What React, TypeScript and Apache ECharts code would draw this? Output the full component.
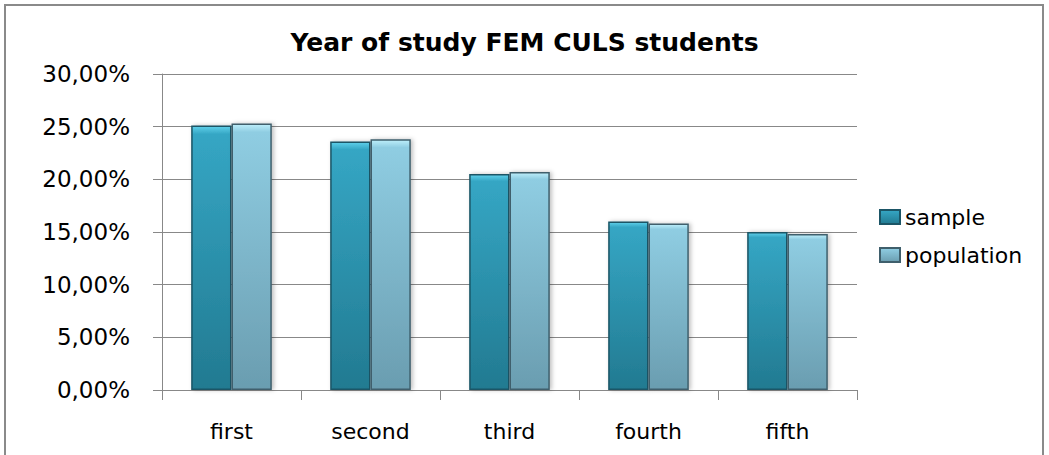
import React, { useEffect, useRef } from "react";
import * as echarts from "echarts";

const categories = ["first", "second", "third", "fourth", "fifth"];
const sampleValues = [25.1, 23.6, 20.5, 16.0, 15.0];
const populationValues = [25.3, 23.8, 20.7, 15.8, 14.8];
const seriesNames = ["sample", "population"];
const titleText = "Year of study FEM CULS students";

const fmt = (v: number) => v.toFixed(2).replace(".", ",") + "%";

export default function App() {
  const ref = useRef<HTMLDivElement>(null);
  useEffect(() => {
    if (!ref.current) return;
    const chart = echarts.init(ref.current, null, { renderer: "svg" });
    const sampleColor = new echarts.graphic.LinearGradient(0, 0, 0, 1, [
      { offset: 0, color: "#5fd0ea" },
      { offset: 0.03, color: "#35a6c4" },
      { offset: 1, color: "#227a91" },
    ]);
    const popColor = new echarts.graphic.LinearGradient(0, 0, 0, 1, [
      { offset: 0, color: "#bdeefa" },
      { offset: 0.03, color: "#8fcde2" },
      { offset: 1, color: "#6a9db0" },
    ]);
    chart.setOption({
      animation: false,
      backgroundColor: "#ffffff",
      title: {
        text: titleText,
        left: "center",
        top: 25,
        textStyle: { fontFamily: "DejaVu Sans", fontWeight: "bold", fontSize: 25, color: "#000" },
      },
      graphic: [
        {
          type: "rect",
          shape: { x: 5, y: 5, width: 1038, height: 470 },
          style: { fill: "none", stroke: "#8a8a8a", lineWidth: 2 },
          silent: true,
        },
      ],
      legend: {
        orient: "vertical",
        left: 874,
        top: 201,
        icon: "rect",
        itemWidth: 20,
        itemHeight: 14,
        itemGap: 16,
        data: seriesNames,
        textStyle: { fontFamily: "DejaVu Sans", fontSize: 22, color: "#000" },
      },
      grid: { left: 162, right: 192, top: 74, bottom: 65 },
      xAxis: {
        type: "category",
        data: categories,
        axisLine: { show: true, lineStyle: { color: "#888", width: 1 } },
        axisTick: { show: true, length: 10, lineStyle: { color: "#888" } },
        axisLabel: { margin: 30, fontFamily: "DejaVu Sans", fontSize: 22, color: "#000" },
      },
      yAxis: {
        type: "value",
        min: 0,
        max: 30,
        interval: 5,
        axisLine: { show: true, lineStyle: { color: "#888", width: 1 } },
        axisTick: { show: true, length: 9, lineStyle: { color: "#888" } },
        splitLine: { show: true, lineStyle: { color: "#888", width: 1 } },
        axisLabel: { margin: 32, fontFamily: "DejaVu Sans", fontSize: 23, color: "#000", formatter: fmt },
      },
      series: [
        {
          name: seriesNames[0],
          type: "bar",
          data: sampleValues,
          barGap: "0%",
          barCategoryGap: "42%",
          itemStyle: {
            color: sampleColor,
            borderColor: "#1b5566",
            borderWidth: 1.5,
            shadowColor: "rgba(0,0,0,0.25)",
            shadowBlur: 4,
            shadowOffsetX: 2,
          },
        },
        {
          name: seriesNames[1],
          type: "bar",
          data: populationValues,
          itemStyle: {
            color: popColor,
            borderColor: "#3f5f6c",
            borderWidth: 1.5,
            shadowColor: "rgba(0,0,0,0.25)",
            shadowBlur: 4,
            shadowOffsetX: 2,
          },
        },
      ],
    });
    return () => chart.dispose();
  }, []);
  return (
    <div
      ref={ref}
      style={{ position: "absolute", left: 0, top: 0, width: 1049, height: 455 }}
    />
  );
}
